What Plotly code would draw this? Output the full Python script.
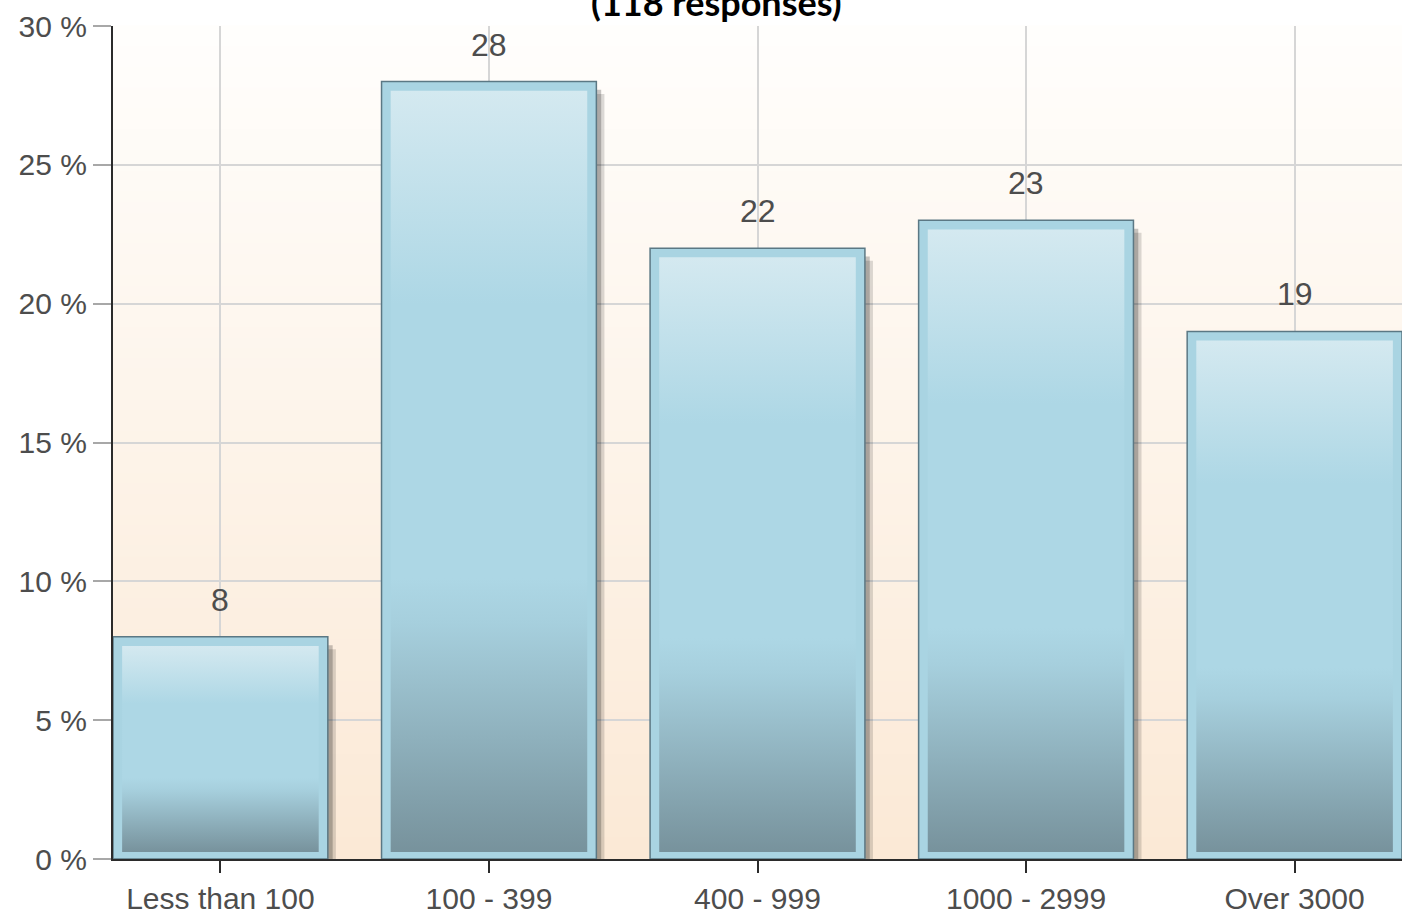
import plotly.graph_objects as go

categories = ['Less than 100', '100 - 399', '400 - 999', '1000 - 2999', 'Over 3000']
percent = [8, 28, 22, 23, 19]
y_ticks = [0, 5, 10, 15, 20, 25, 30]
y_tick_text = ['%d %%' % t for t in y_ticks]
title_text = '(118 responses)'

idx = list(range(len(categories)))
half = 0.4

fig = go.Figure()

# soft drop shadow behind the bars (two layers to fake a blur)
fig.add_trace(go.Bar(x=[i + 0.03 for i in idx], y=[v - 0.45 for v in percent], width=0.8,
                     marker=dict(color='rgba(0,0,0,0.14)', line_width=0), hoverinfo='skip'))
fig.add_trace(go.Bar(x=[i + 0.018 for i in idx], y=[v - 0.3 for v in percent], width=0.8,
                     marker=dict(color='rgba(0,0,0,0.22)', line_width=0), hoverinfo='skip'))

# outer bar: light blue frame with dark outline
fig.add_trace(go.Bar(x=idx, y=percent, width=0.8,
                     marker=dict(color='#a9d4e2', line=dict(color='#5b7884', width=1.5)),
                     hoverinfo='skip'))

# inner gradient panel of each bar
dx, dtop, dbot = 0.034, 0.33, 0.25
bar_scale = [[0, '#77929c'], [0.3, '#a6cfdd'], [0.36, '#add7e5'],
             [0.72, '#add7e5'], [1, '#d4e9f0']]
for i, v in zip(idx, percent):
    x0, x1 = i - half + dx, i + half - dx
    y0, y1 = dbot, v - dtop
    fig.add_trace(go.Scatter(x=[x0, x1, x1, x0, x0], y=[y0, y0, y1, y1, y0],
                             mode='none', fill='toself',
                             fillgradient=dict(type='vertical', colorscale=bar_scale),
                             hoverinfo='skip', showlegend=False))

# value labels above the bars
for i, v in zip(idx, percent):
    fig.add_annotation(x=i, y=v, text=str(v), showarrow=False, yanchor='middle', yshift=37,
                       font=dict(family='Liberation Sans, Arial', size=32, color='#4d4d4d'))

fig.add_annotation(xref='paper', yref='paper', x=0.468, y=1.0, yanchor='bottom',
                   text='<b>' + title_text + '</b>', showarrow=False,
                   font=dict(family='Lato', size=36, color='#000000'))

# background gradient: white at the top to peach at the bottom
top = (255, 254, 252)
bottom = (251, 233, 214)
n = 80
for k in range(n):
    t = k / (n - 1)
    c = tuple(round(top[j] + (bottom[j] - top[j]) * t) for j in range(3))
    fig.add_shape(type='rect', xref='paper', yref='paper', x0=0, x1=1,
                  y0=1 - (k + 1) / n, y1=1 - k / n + 0.001, layer='below',
                  line_width=0, fillcolor='rgb(%d,%d,%d)' % c)

fig.update_layout(
    width=1402, height=916,
    margin=dict(l=113, r=0, t=26, b=57),
    barmode='overlay',
    showlegend=False,
    paper_bgcolor='white',
    plot_bgcolor='rgba(0,0,0,0)',
    font=dict(family='Liberation Sans, Arial', size=30, color='#4d4d4d'),
)
fig.update_xaxes(
    range=[-half, len(categories) - 1 + half],
    tickvals=idx, ticktext=categories,
    showgrid=True, gridcolor='#d6d6d6', gridwidth=1.5,
    showline=True, linecolor='#2b2b2b', linewidth=2,
    ticks='outside', ticklen=12, tickwidth=2, tickcolor='#2b2b2b',
    zeroline=False, fixedrange=True,
)
fig.update_yaxes(
    range=[0, 30], tickvals=y_ticks, ticktext=y_tick_text,
    showgrid=True, gridcolor='#d6d6d6', gridwidth=1.5,
    showline=True, linecolor='#2b2b2b', linewidth=2,
    ticks='outside', ticklen=18, tickwidth=1.5, tickcolor='#a8a8a8',
    zeroline=False, fixedrange=True,
)

fig.write_html("out.html", config={'displayModeBar': False},
               post_script="document.body.style.margin='0';document.body.style.overflow='hidden';")
